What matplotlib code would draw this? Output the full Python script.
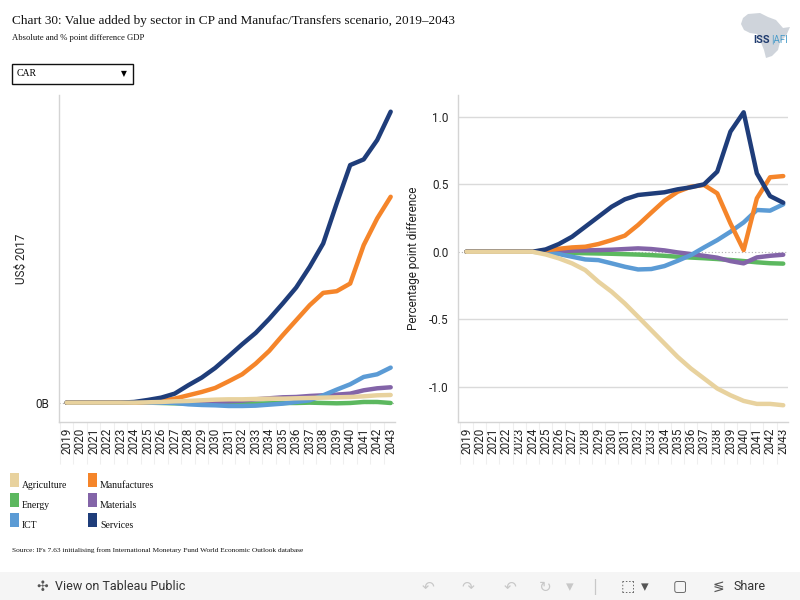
import matplotlib
matplotlib.use("Agg")
import matplotlib.pyplot as plt
from matplotlib.patches import Rectangle, Polygon
import numpy as np

W, H = 800, 600

years = list(range(2019, 2044))

# left chart: absolute difference, US$ 2017 billions (scale not shown in source)
abs_agriculture = [0, 0, 0, 0, 0, 0, 0.001, 0.002, 0.004, 0.005, 0.007, 0.009, 0.010, 0.010, 0.011,
                   0.012, 0.012, 0.013, 0.014, 0.015, 0.016, 0.017, 0.019, 0.022, 0.023]
abs_energy = [0, 0, 0, 0, 0, 0, 0, -0.001, -0.002, -0.003, -0.004, -0.004, -0.004, -0.003, -0.003,
              -0.002, -0.001, -0.001, 0, -0.001, -0.002, -0.001, 0.002, 0.002, -0.001]
abs_ict = [0, 0, 0, 0, 0, 0, 0, 0, -0.001, -0.005, -0.007, -0.008, -0.010, -0.010, -0.009,
           -0.006, -0.003, 0.002, 0.007, 0.022, 0.039, 0.055, 0.077, 0.085, 0.105]
abs_manufactures = [0, 0, 0, 0, 0, 0, 0.002, 0.005, 0.012, 0.022, 0.032, 0.044, 0.064, 0.085, 0.117,
                    0.155, 0.202, 0.247, 0.292, 0.329, 0.334, 0.357, 0.472, 0.552, 0.617]
abs_materials = [0, 0, 0, 0, 0, 0, 0.001, 0.001, 0.002, 0.002, 0.002, 0.002, 0.004, 0.006, 0.010,
                 0.013, 0.016, 0.017, 0.020, 0.022, 0.024, 0.027, 0.037, 0.043, 0.046]
abs_services = [0, 0, 0, 0, 0, 0.002, 0.008, 0.015, 0.027, 0.052, 0.075, 0.104, 0.139, 0.175, 0.209,
                0.251, 0.297, 0.345, 0.407, 0.477, 0.597, 0.712, 0.729, 0.787, 0.872]

# right chart: percentage point difference of GDP
pp_agriculture = [0, 0, 0, 0, 0, 0, -0.020, -0.049, -0.086, -0.136, -0.222, -0.296, -0.383, -0.481, -0.580,
                  -0.679, -0.778, -0.864, -0.938, -1.012, -1.062, -1.104, -1.126, -1.126, -1.136]
pp_energy = [0, 0, 0, 0, 0, 0, -0.003, -0.006, -0.009, -0.011, -0.013, -0.015, -0.018, -0.021, -0.025,
             -0.030, -0.037, -0.043, -0.048, -0.054, -0.061, -0.069, -0.078, -0.085, -0.088]
pp_ict = [0, 0, 0, 0, 0, 0, -0.005, -0.017, -0.037, -0.057, -0.062, -0.086, -0.111, -0.131, -0.128,
          -0.106, -0.067, -0.025, 0.032, 0.086, 0.148, 0.217, 0.309, 0.304, 0.351]
pp_manufactures = [0, 0, 0, 0, 0, 0, 0.010, 0.022, 0.032, 0.037, 0.057, 0.086, 0.119, 0.198, 0.289,
                   0.378, 0.444, 0.481, 0.494, 0.432, 0.210, 0.012, 0.395, 0.551, 0.560]
pp_materials = [0, 0, 0, 0, 0, 0, 0.002, 0.005, 0.008, 0.010, 0.012, 0.015, 0.020, 0.025, 0.020,
                0.010, -0.005, -0.017, -0.030, -0.044, -0.069, -0.086, -0.042, -0.030, -0.022]
pp_services = [0, 0, 0, 0, 0, 0, 0.017, 0.057, 0.111, 0.185, 0.259, 0.333, 0.388, 0.420, 0.430,
               0.440, 0.462, 0.477, 0.499, 0.593, 0.889, 1.032, 0.580, 0.412, 0.363]

sectors = ["Agriculture", "Energy", "ICT", "Manufactures", "Materials", "Services"]
colors = {"Agriculture": "#e8d29e", "Energy": "#5cb85f", "ICT": "#5b9bd5",
          "Manufactures": "#f5852a", "Materials": "#8364a8", "Services": "#1f3d7a"}
abs_data = {"Agriculture": abs_agriculture, "Energy": abs_energy, "ICT": abs_ict,
            "Manufactures": abs_manufactures, "Materials": abs_materials, "Services": abs_services}
pp_data = {"Agriculture": pp_agriculture, "Energy": pp_energy, "ICT": pp_ict,
           "Manufactures": pp_manufactures, "Materials": pp_materials, "Services": pp_services}
draw_order = ["Energy", "Materials", "ICT", "Manufactures", "Services", "Agriculture"]

plt.rcParams['font.family'] = ['Roboto', 'DejaVu Sans']
serif = ['Liberation Serif', 'DejaVu Serif']

fig = plt.figure(figsize=(8, 6), dpi=100)

def px(x, y):
    return x / W, 1 - y / H

def style_axes(ax):
    for s in ['top', 'right']:
        ax.spines[s].set_visible(False)
    for s in ['left', 'bottom']:
        ax.spines[s].set_color('#d4d4d4')
        ax.spines[s].set_linewidth(1)
    ax.set_xticks(years)
    ax.set_xticklabels([str(y) for y in years], rotation=90, fontsize=8.5, color='#222222')
    ax.set_xticks(np.arange(2018.5, 2043.6, 1), minor=True)
    ax.tick_params(axis='x', which='major', length=0, pad=4)
    ax.tick_params(axis='x', which='minor', length=30, color='#efefef', width=0.8)
    ax.tick_params(axis='y', length=0, labelsize=8.5, colors='#222222', pad=7)

# left chart
ax1 = fig.add_axes([59 / W, 1 - 422 / H, 336 / W, 327 / H])
style_axes(ax1)
ax1.set_xlim(2018.43, 2043.32)
ax1.set_ylim(-0.058, 0.922)
ax1.axhline(0, color='#b0b0b0', lw=0.8, ls=(0, (1, 2)), zorder=1)
for s in draw_order:
    ax1.plot(years, abs_data[s], color=colors[s], lw=3.2, solid_capstyle='round', zorder=3)
ax1.set_yticks([0])
ax1.set_yticklabels(['0B'])
ax1.set_ylabel('US$ 2017', fontsize=8.5, color='#222222')
ax1.yaxis.set_label_coords((28 - 59) / 336, 0.5)

# right chart
ax2 = fig.add_axes([458 / W, 1 - 422 / H, 330 / W, 327 / H])
style_axes(ax2)
ax2.set_xlim(2018.36, 2043.36)
ax2.set_ylim(-1.26, 1.16)
for v in [-1.0, -0.5, 0.5, 1.0]:
    ax2.axhline(v, color='#dadada', lw=1, zorder=1)
ax2.axhline(0, color='#b0b0b0', lw=0.8, ls=(0, (1, 2)), zorder=1)
for s in draw_order:
    ax2.plot(years, pp_data[s], color=colors[s], lw=3.2, solid_capstyle='round', zorder=3)
ax2.set_yticks([-1.0, -0.5, 0.0, 0.5, 1.0])
ax2.set_yticklabels(['-1.0', '-0.5', '0.0', '0.5', '1.0'])
ax2.set_ylabel('Percentage point difference', fontsize=8.5, color='#222222')
ax2.yaxis.set_label_coords((420 - 458) / 330, 0.5)

# titles
fig.text(*px(12, 21), 'Chart 30: Value added by sector in CP and Manufac/Transfers scenario, 2019\u20132043',
         family=serif, fontsize=9.5, va='center', ha='left', color='#111111')
fig.text(*px(12, 38), 'Absolute and % point difference GDP', family=serif, fontsize=6.2,
         va='center', ha='left', color='#111111')

# country selector
fig.patches.append(Rectangle(px(12, 84), 121 / W, 20 / H, transform=fig.transFigure,
                             facecolor='white', edgecolor='#111111', lw=1))
fig.text(*px(17, 74), 'CAR', family=serif, fontsize=7, va='center', ha='left')
fig.text(*px(124, 74), '\u25bc', fontsize=5.5, va='center', ha='center', family=['DejaVu Sans'])

# logo
africa = [(748, 14), (760, 13), (768, 17), (776, 20), (783, 28), (790, 27), (786, 36), (780, 42),
          (778, 50), (772, 56), (766, 58), (764, 50), (760, 40), (757, 34), (750, 33), (744, 30),
          (741, 24), (743, 18)]
fig.patches.append(Polygon([px(x, y) for x, y in africa], closed=True, transform=fig.transFigure,
                           facecolor='#cfd4db', edgecolor='none'))
fig.text(*px(753, 40), 'ISS', fontsize=8, fontweight='bold', color='#1f3b6e', va='center', ha='left')
fig.text(*px(771, 40), '|AFI', fontsize=7, color='#4a9cc9', va='center', ha='left')

# legend
legend_pos = [("Agriculture", 10, 473), ("Energy", 10, 493), ("ICT", 10, 513),
              ("Manufactures", 88, 473), ("Materials", 88, 493), ("Services", 88, 513)]
for name, lx, ly in legend_pos:
    fig.patches.append(Rectangle(px(lx, ly + 14), 9 / W, 14 / H, transform=fig.transFigure,
                                 facecolor=colors[name], edgecolor='none'))
    fig.text(*px(lx + 12, ly + 13), name, family=serif, fontsize=7, va='center', ha='left',
             color='#111111')

fig.text(*px(12, 550), 'Source: IFs 7.63 initialising from International Monetary Fund World Economic Outlook database',
         family=serif, fontsize=5.3, va='center', ha='left', color='#111111')

# toolbar
fig.patches.append(Rectangle(px(0, 600), 1, 28 / H, transform=fig.transFigure,
                             facecolor='#f5f5f5', edgecolor='none'))
fig.text(*px(42, 587), '\u2723', fontsize=10, color='#555555', va='center', ha='center',
         family=['DejaVu Sans'])
fig.text(*px(55, 587), 'View on Tableau Public', fontsize=9, color='#333333', va='center', ha='left')
for gx, g in [(428, '\u21b6'), (468, '\u21b7'), (510, '\u21b6'), (545, '\u21bb'), (570, '\u25be'),
              (595, '|'), (628, '\u2b1a'), (645, '\u25be'), (680, '\u25a2')]:
    col = '#c8c8c8' if gx < 600 else '#555555'
    fig.text(*px(gx, 587), g, fontsize=11, color=col, va='center', ha='center', family=['DejaVu Sans'])
fig.text(*px(718, 587), '\u2276', fontsize=10, color='#555555', va='center', ha='center',
         family=['DejaVu Sans'])
fig.text(*px(733, 587), 'Share', fontsize=9, color='#333333', va='center', ha='left')

fig.savefig('out.png', dpi=100)
